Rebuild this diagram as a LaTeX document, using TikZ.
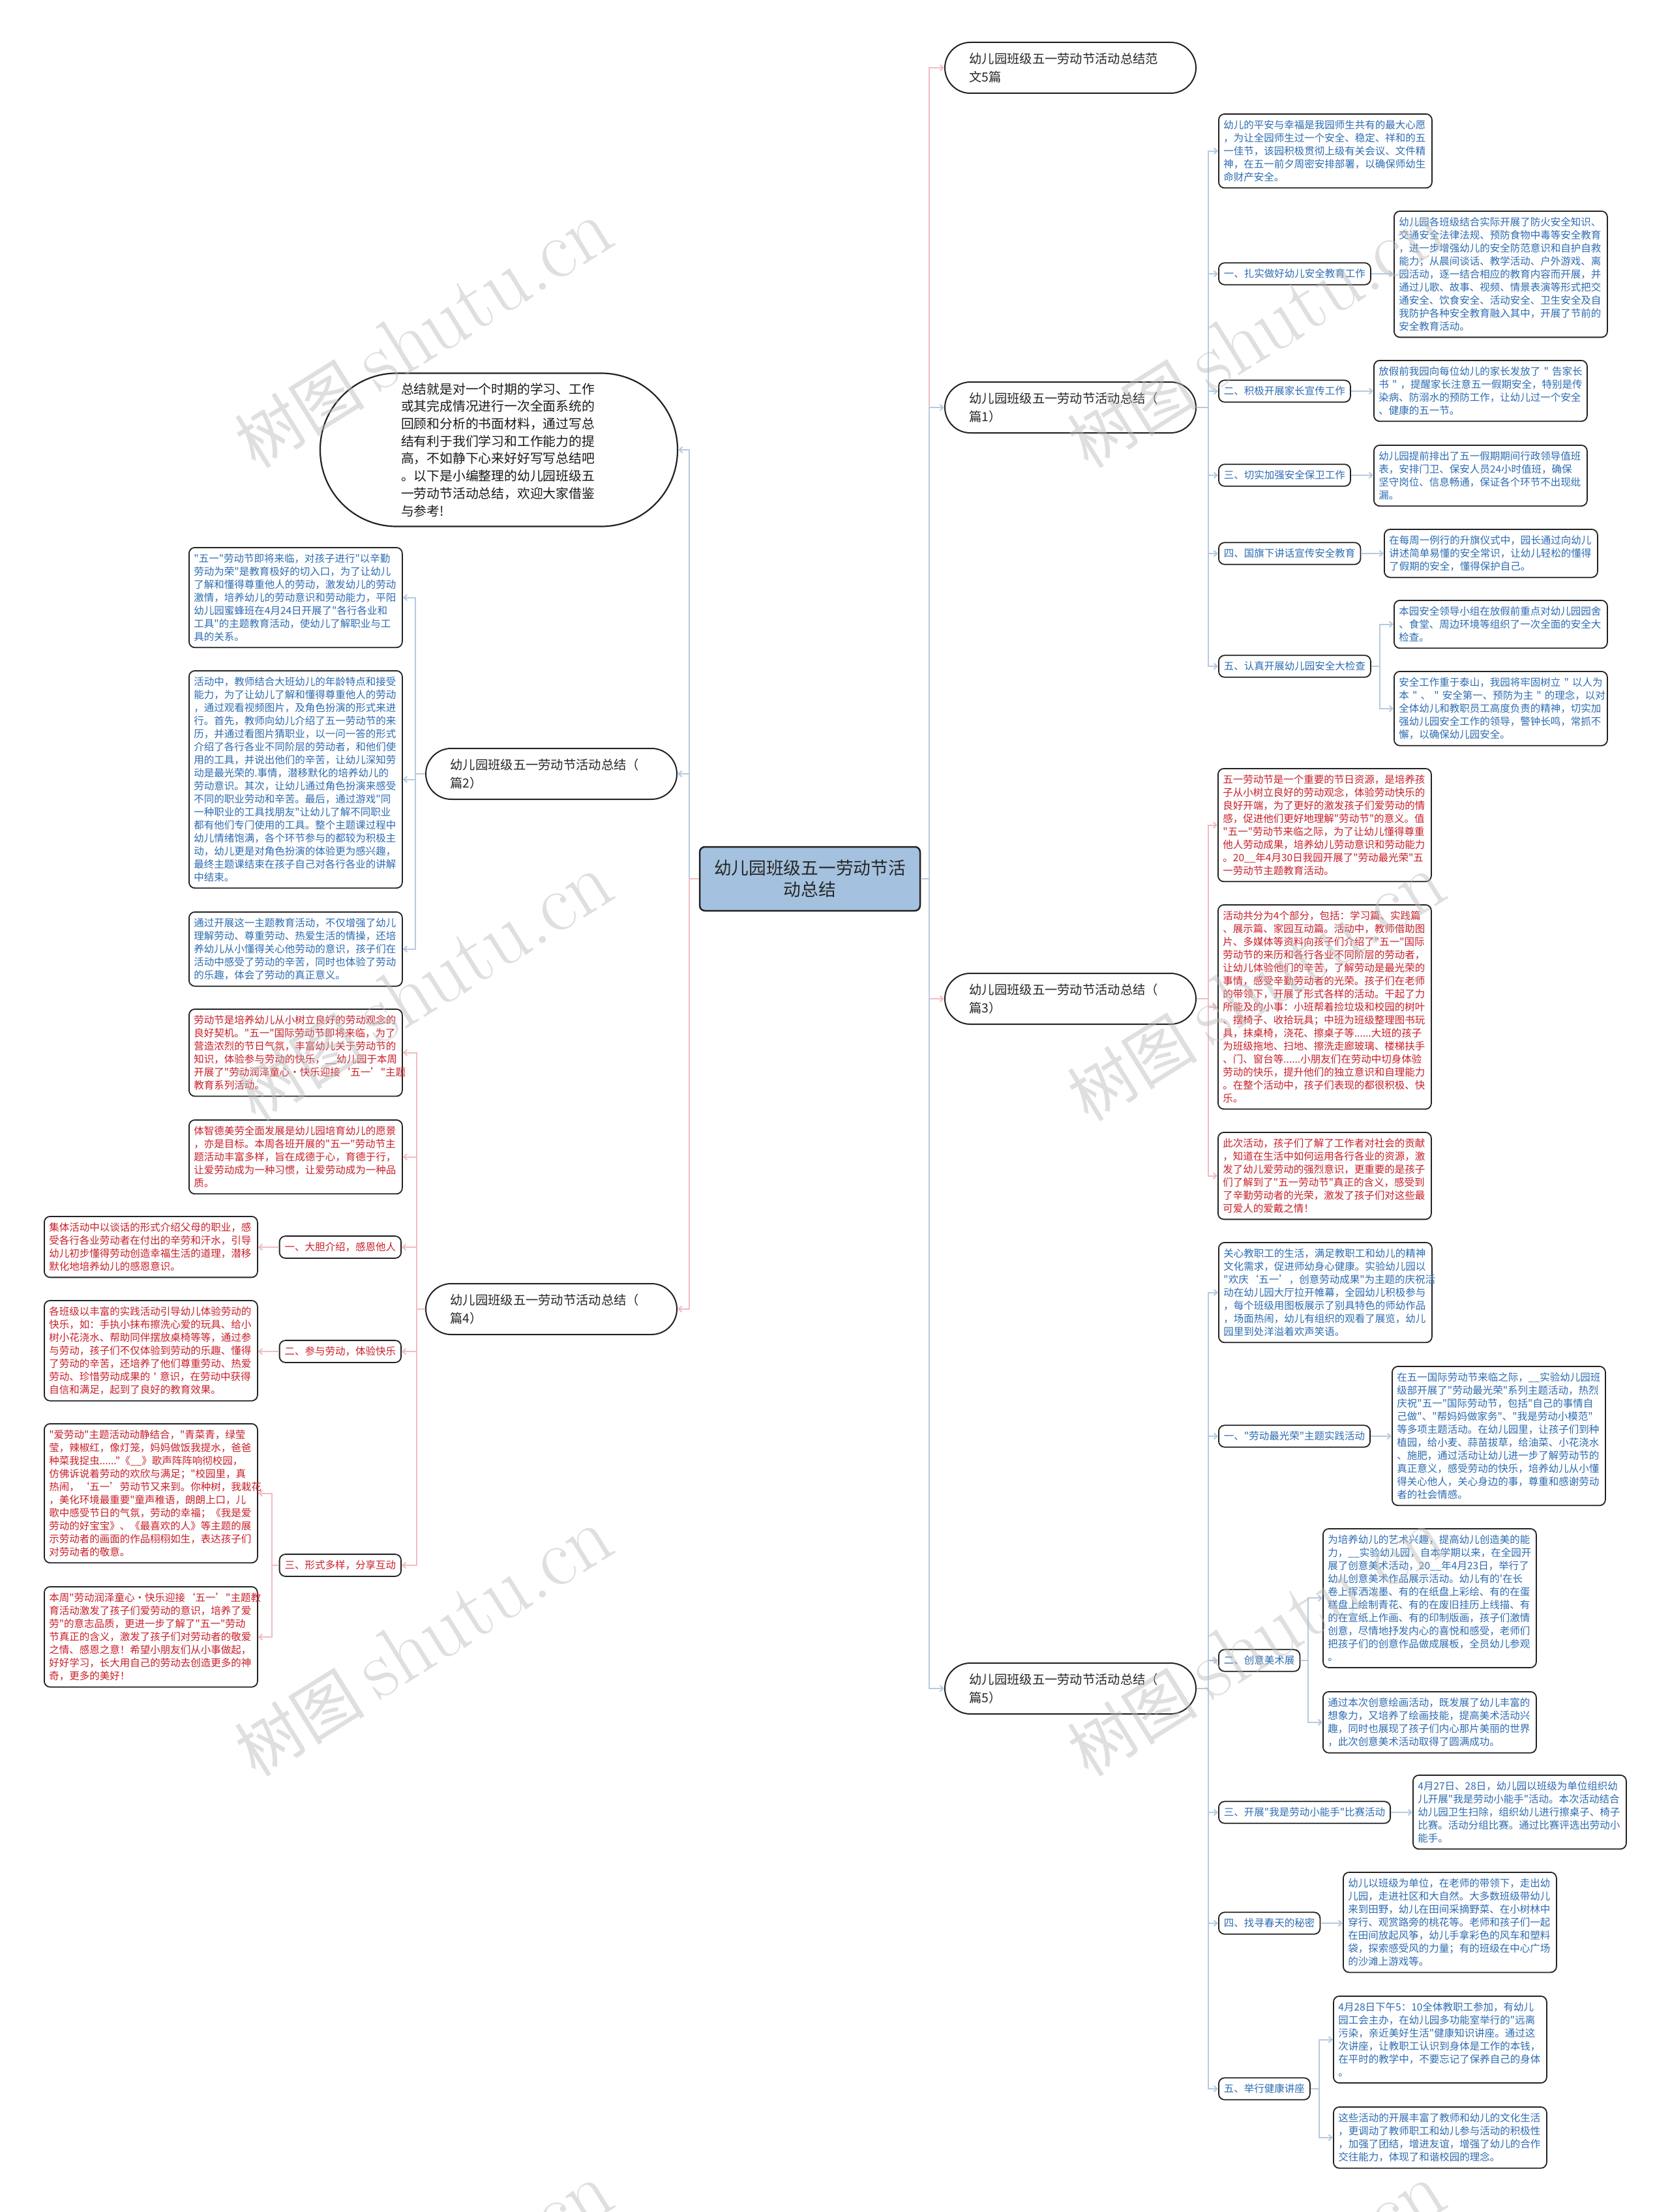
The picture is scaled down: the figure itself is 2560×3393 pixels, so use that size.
\documentclass[tikz,border=0pt]{standalone}
\usepackage{fontspec}
\newfontfamily\cjk{Noto Sans CJK SC}
\usetikzlibrary{arrows.meta}
\definecolor{tblue}{RGB}{45,108,178}
\definecolor{tred}{RGB}{200,32,42}
\definecolor{lblue}{RGB}{182,202,224}
\definecolor{lpink}{RGB}{240,188,194}
\definecolor{rootfill}{RGB}{164,194,223}
\definecolor{bdr}{RGB}{34,34,34}
\tikzset{
 txt/.style={draw=bdr, line width=1.8pt, rounded corners=9pt, fill=white, anchor=north west, align=left, text width=312pt, inner xsep=7.5pt, inner ysep=9.5pt, font=\cjk\fontsize{15.5}{20}\selectfont},
 lbl/.style={draw=bdr, line width=1.8pt, rounded corners=9pt, fill=white, inner xsep=8pt, inner ysep=9.5pt, font=\cjk\fontsize{15.5}{20}\selectfont},
 bl/.style={text=tblue}, rd/.style={text=tred},
 branch/.style={draw=bdr, line width=2pt, rounded corners=39pt, fill=white, minimum width=385pt, minimum height=78pt, text width=310pt, align=left, inner xsep=37.5pt, font=\cjk\fontsize{19.3}{28}\selectfont, text=black!85},
 cb/.style={draw=lblue, line width=2pt, -{Straight Barb[length=5pt,width=9pt]}},
 cp/.style={draw=lpink, line width=2pt, -{Straight Barb[length=5pt,width=9pt]}},
 wmark/.style={rotate=32, text=gray!55, opacity=0.45, inner sep=0pt},
}
\begin{document}
\begin{tikzpicture}[x=1pt,y=-1pt]
\useasboundingbox[fill=white] (0,0) rectangle (2560,3393);

% ---------- root, intro, branches ----------
\node[draw=bdr, line width=2.5pt, rounded corners=8pt, fill=rootfill, minimum width=338pt, minimum height=98pt, align=center, font=\cjk\fontsize{26.7}{33}\selectfont, text=black!85] (root) at (1242,1348) {幼儿园班级五一劳动节活\\动总结};

\node[draw=bdr, line width=2.2pt, rounded corners=117pt, fill=white, minimum width=548pt, minimum height=235pt, text width=300pt, align=left, font=\cjk\fontsize{19.8}{26.7}\selectfont, text=black!90] (intro) at (765,690) {总结就是对一个时期的学习、工作\\或其完成情况进行一次全面系统的\\回顾和分析的书面材料，通过写总\\结有利于我们学习和工作能力的提\\高，不如静下心来好好写写总结吧\\。以下是小编整理的幼儿园班级五\\一劳动节活动总结，欢迎大家借鉴\\与参考!};

\node[branch, anchor=west] (top) at (1448,104) {幼儿园班级五一劳动节活动总结范\\文5篇};
\node[branch, anchor=west] (p1) at (1448,625) {幼儿园班级五一劳动节活动总结（\\篇1）};
\node[branch, anchor=west] (p3) at (1448,1532) {幼儿园班级五一劳动节活动总结（\\篇3）};
\node[branch, anchor=west] (p5) at (1448,2590) {幼儿园班级五一劳动节活动总结（\\篇5）};
\node[branch, anchor=east] (p2) at (1039,1187) {幼儿园班级五一劳动节活动总结（\\篇2）};
\node[branch, anchor=east] (p4) at (1039,2008) {幼儿园班级五一劳动节活动总结（\\篇4）};

% ---------- 篇1 ----------
\node[txt, bl] (b1t0) at (1868,174) {幼儿的平安与幸福是我园师生共有的最大心愿\\，为让全园师生过一个安全、稳定、祥和的五\\一佳节，该园积极贯彻上级有关会议、文件精\\神，在五一前夕周密安排部署，以确保师幼生\\命财产安全。};
\node[lbl, bl, anchor=west] (b1l1) at (1868,420) {一、扎实做好幼儿安全教育工作};
\node[txt, bl] (b1t1) at (2137,323) {幼儿园各班级结合实际开展了防火安全知识、\\交通安全法律法规、预防食物中毒等安全教育\\，进一步增强幼儿的安全防范意识和自护自救\\能力；从晨间谈话、教学活动、户外游戏、离\\园活动，逐一结合相应的教育内容而开展，并\\通过儿歌、故事、视频、情景表演等形式把交\\通安全、饮食安全、活动安全、卫生安全及自\\我防护各种安全教育融入其中，开展了节前的\\安全教育活动。};
\node[lbl, bl, anchor=west] (b1l2) at (1868,600) {二、积极开展家长宣传工作};
\node[txt, bl] (b1t2) at (2106,552) {放假前我园向每位幼儿的家长发放了~"~告家长\\书~"~，提醒家长注意五一假期安全，特别是传\\染病、防溺水的预防工作，让幼儿过一个安全\\、健康的五一节。};
\node[lbl, bl, anchor=west] (b1l3) at (1868,729) {三、切实加强安全保卫工作};
\node[txt, bl] (b1t3) at (2106,682) {幼儿园提前排出了五一假期期间行政领导值班\\表，安排门卫、保安人员24小时值班，确保\\坚守岗位、信息畅通，保证各个环节不出现纰\\漏。};
\node[lbl, bl, anchor=west] (b1l4) at (1868,849) {四、国旗下讲话宣传安全教育};
\node[txt, bl] (b1t4) at (2122,811) {在每周一例行的升旗仪式中，园长通过向幼儿\\讲述简单易懂的安全常识，让幼儿轻松的懂得\\了假期的安全，懂得保护自己。};
\node[lbl, bl, anchor=west] (b1l5) at (1868,1022) {五、认真开展幼儿园安全大检查};
\node[txt, bl] (b1t5a) at (2137,920) {本园安全领导小组在放假前重点对幼儿园园舍\\、食堂、周边环境等组织了一次全面的安全大\\检查。};
\node[txt, bl] (b1t5b) at (2137,1029) {安全工作重于泰山，我园将牢固树立~"~以人为\\本~"~、~"~安全第一、预防为主~"~的理念，以对\\全体幼儿和教职员工高度负责的精神，切实加\\强幼儿园安全工作的领导，警钟长鸣，常抓不\\懈，以确保幼儿园安全。};

% ---------- 篇3 ----------
\node[txt, rd] (b3t1) at (1867,1178) {五一劳动节是一个重要的节日资源，是培养孩\\子从小树立良好的劳动观念，体验劳动快乐的\\良好开端，为了更好的激发孩子们爱劳动的情\\感，促进他们更好地理解"劳动节"的意义。值\\"五一"劳动节来临之际，为了让幼儿懂得尊重\\他人劳动成果，培养幼儿劳动意识和劳动能力\\。20\_\_年4月30日我园开展了"劳动最光荣"五\\一劳动节主题教育活动。};
\node[txt, rd] (b3t2) at (1867,1387) {活动共分为4个部分，包括：学习篇、实践篇\\、展示篇、家园互动篇。活动中，教师借助图\\片、多媒体等资料向孩子们介绍了"五一"国际\\劳动节的来历和各行各业不同阶层的劳动者，\\让幼儿体验他们的辛苦，了解劳动是最光荣的\\事情，感受辛勤劳动者的光荣。孩子们在老师\\的带领下，开展了形式各样的活动。干起了力\\所能及的小事：小班帮着捡垃圾和校园的树叶\\、摆椅子、收拾玩具；中班为班级整理图书玩\\具，抹桌椅，浇花、擦桌子等......大班的孩子\\为班级拖地、扫地、擦洗走廊玻璃、楼梯扶手\\、门、窗台等......小朋友们在劳动中切身体验\\劳动的快乐，提升他们的独立意识和自理能力\\。在整个活动中，孩子们表现的都很积极、快\\乐。};
\node[txt, rd] (b3t3) at (1867,1736) {此次活动，孩子们了解了工作者对社会的贡献\\，知道在生活中如何运用各行各业的资源，激\\发了幼儿爱劳动的强烈意识，更重要的是孩子\\们了解到了"五一劳动节"真正的含义，感受到\\了辛勤劳动者的光荣，激发了孩子们对这些最\\可爱人的爱戴之情！};

% ---------- 篇5 ----------
\node[txt, bl] (b5t0) at (1868,1905) {关心教职工的生活，满足教职工和幼儿的精神\\文化需求，促进师幼身心健康。实验幼儿园以\\"欢庆‘五一’，创意劳动成果"为主题的庆祝活\\动在幼儿园大厅拉开帷幕，全园幼儿积极参与\\，每个班级用图板展示了别具特色的师幼作品\\，场面热闹，幼儿有组织的观看了展览，幼儿\\园里到处洋溢着欢声笑语。};
\node[lbl, bl, anchor=west] (b5l1) at (1868,2203) {一、"劳动最光荣"主题实践活动};
\node[txt, bl] (b5t1) at (2134,2095) {在五一国际劳动节来临之际，\_\_实验幼儿园班\\级部开展了"劳动最光荣"系列主题活动，热烈\\庆祝"五一"国际劳动节，包括"自己的事情自\\己做"、"帮妈妈做家务"、"我是劳动小模范"\\等多项主题活动。在幼儿园里，让孩子们到种\\植园，给小麦、蒜苗拔草，给油菜、小花浇水\\、施肥，通过活动让幼儿进一步了解劳动节的\\真正意义，感受劳动的快乐，培养幼儿从小懂\\得关心他人，关心身边的事，尊重和感谢劳动\\者的社会情感。};
\node[lbl, bl, anchor=west] (b5l2) at (1868,2547) {二、创意美术展};
\node[txt, bl] (b5t2a) at (2028,2344) {为培养幼儿的艺术兴趣，提高幼儿创造美的能\\力，\_\_实验幼儿园，自本学期以来，在全园开\\展了创意美术活动，20\_\_年4月23日，举行了\\幼儿创意美术作品展示活动。幼儿有的'在长\\卷上挥洒泼墨、有的在纸盘上彩绘、有的在蛋\\糕盘上绘制青花、有的在废旧挂历上线描、有\\的在宣纸上作画、有的印制版画，孩子们激情\\创意，尽情地抒发内心的喜悦和感受，老师们\\把孩子们的创意作品做成展板，全员幼儿参观\\。};
\node[txt, bl] (b5t2b) at (2028,2594) {通过本次创意绘画活动，既发展了幼儿丰富的\\想象力，又培养了绘画技能，提高美术活动兴\\趣，同时也展现了孩子们内心那片美丽的世界\\，此次创意美术活动取得了圆满成功。};
\node[lbl, bl, anchor=west] (b5l3) at (1868,2780) {三、开展"我是劳动小能手"比赛活动};
\node[txt, bl] (b5t3) at (2166,2722) {4月27日、28日，幼儿园以班级为单位组织幼\\儿开展"我是劳动小能手"活动。本次活动结合\\幼儿园卫生扫除，组织幼儿进行擦桌子、椅子\\比赛。活动分组比赛。通过比赛评选出劳动小\\能手。};
\node[lbl, bl, anchor=west] (b5l4) at (1868,2950) {四、找寻春天的秘密};
\node[txt, bl] (b5t4) at (2059,2871) {幼儿以班级为单位，在老师的带领下，走出幼\\儿园，走进社区和大自然。大多数班级带幼儿\\来到田野，幼儿在田间采摘野菜、在小树林中\\穿行、观赏路旁的桃花等。老师和孩子们一起\\在田间放起风筝，幼儿手拿彩色的风车和塑料\\袋，探索感受风的力量；有的班级在中心广场\\的沙滩上游戏等。};
\node[lbl, bl, anchor=west] (b5l5) at (1868,3204) {五、举行健康讲座};
\node[txt, bl] (b5t5a) at (2044,3061) {4月28日下午5：10全体教职工参加，有幼儿\\园工会主办，在幼儿园多功能室举行的"远离\\污染，亲近美好生活"健康知识讲座。通过这\\次讲座，让教职工认识到身体是工作的本钱，\\在平时的教学中，不要忘记了保养自己的身体\\。};
\node[txt, bl] (b5t5b) at (2044,3231) {这些活动的开展丰富了教师和幼儿的文化生活\\，更调动了教师职工和幼儿参与活动的积极性\\，加强了团结，增进友谊，增强了幼儿的合作\\交往能力，体现了和谐校园的理念。};

% ---------- 篇2 ----------
\node[txt, bl] (b2t1) at (289,839) {"五一"劳动节即将来临，对孩子进行"以辛勤\\劳动为荣"是教育极好的切入口，为了让幼儿\\了解和懂得尊重他人的劳动，激发幼儿的劳动\\激情，培养幼儿的劳动意识和劳动能力，平阳\\幼儿园蜜蜂班在4月24日开展了"各行各业和\\工具"的主题教育活动，使幼儿了解职业与工\\具的关系。};
\node[txt, bl] (b2t2) at (289,1028) {活动中，教师结合大班幼儿的年龄特点和接受\\能力，为了让幼儿了解和懂得尊重他人的劳动\\，通过观看视频图片，及角色扮演的形式来进\\行。首先，教师向幼儿介绍了五一劳动节的来\\历，并通过看图片猜职业，以一问一答的形式\\介绍了各行各业不同阶层的劳动者，和他们使\\用的工具，并说出他们的辛苦，让幼儿深知劳\\动是最光荣的.事情，潜移默化的培养幼儿的\\劳动意识。其次，让幼儿通过角色扮演来感受\\不同的职业劳动和辛苦。最后，通过游戏"同\\一种职业的工具找朋友"让幼儿了解不同职业\\都有他们专门使用的工具。整个主题课过程中\\幼儿情绪饱满，各个环节参与的都较为积极主\\动，幼儿更是对角色扮演的体验更为感兴趣，\\最终主题课结束在孩子自己对各行各业的讲解\\中结束。};
\node[txt, bl] (b2t3) at (289,1398) {通过开展这一主题教育活动，不仅增强了幼儿\\理解劳动、尊重劳动、热爱生活的情操，还培\\养幼儿从小懂得关心他劳动的意识，孩子们在\\活动中感受了劳动的辛苦，同时也体验了劳动\\的乐趣，体会了劳动的真正意义。};

% ---------- 篇4 ----------
\node[txt, rd] (b4t1) at (289,1547) {劳动节是培养幼儿从小树立良好的劳动观念的\\良好契机。"五一"国际劳动节即将来临，为了\\营造浓烈的节日气氛，丰富幼儿关于劳动节的\\知识，体验参与劳动的快乐，\_\_幼儿园于本周\\开展了"劳动润泽童心·快乐迎接‘五一’"主题\\教育系列活动。};
\node[txt, rd] (b4t2) at (289,1717) {体智德美劳全面发展是幼儿园培育幼儿的愿景\\，亦是目标。本周各班开展的"五一"劳动节主\\题活动丰富多样，旨在成德于心，育德于行，\\让爱劳动成为一种习惯，让爱劳动成为一种品\\质。};
\node[lbl, rd, anchor=east] (b4l1) at (616,1913) {一、大胆介绍，感恩他人};
\node[txt, rd] (b4t3) at (67,1865) {集体活动中以谈话的形式介绍父母的职业，感\\受各行各业劳动者在付出的辛劳和汗水，引导\\幼儿初步懂得劳动创造幸福生活的道理，潜移\\默化地培养幼儿的感恩意识。};
\node[lbl, rd, anchor=east] (b4l2) at (616,2073) {二、参与劳动，体验快乐};
\node[txt, rd] (b4t4) at (67,1994) {各班级以丰富的实践活动引导幼儿体验劳动的\\快乐，如：手执小抹布擦洗心爱的玩具、给小\\树小花浇水、帮助同伴摆放桌椅等等，通过参\\与劳动，孩子们不仅体验到劳动的乐趣、懂得\\了劳动的辛苦，还培养了他们尊重劳动、热爱\\劳动、珍惜劳动成果的~'~意识，在劳动中获得\\自信和满足，起到了良好的教育效果。};
\node[lbl, rd, anchor=east] (b4l3) at (616,2401) {三、形式多样，分享互动};
\node[txt, rd] (b4t5) at (67,2183) {"爱劳动"主题活动动静结合，"青菜青，绿莹\\莹，辣椒红，像灯笼，妈妈做饭我提水，爸爸\\种菜我捉虫......"《\_\_》歌声阵阵响彻校园，\\仿佛诉说着劳动的欢欣与满足；"校园里，真\\热闹，‘五一’劳动节又来到。你种树，我栽花\\，美化环境最重要"童声稚语，朗朗上口，儿\\歌中感受节日的气氛，劳动的幸福；《我是爱\\劳动的好宝宝》、《最喜欢的人》等主题的展\\示劳动者的画面的作品栩栩如生，表达孩子们\\对劳动者的敬意。};
\node[txt, rd] (b4t6) at (67,2433) {本周"劳动润泽童心·快乐迎接‘五一’"主题教\\育活动激发了孩子们爱劳动的意识，培养了爱\\劳"的意志品质，更进一步了解了"五一"劳动\\节真正的含义，激发了孩子们对劳动者的敬爱\\之情、感恩之意！希望小朋友们从小事做起，\\好好学习，长大用自己的劳动去创造更多的神\\奇，更多的美好！};

% ---------- main connectors ----------
\draw[cp] (root.east) -- ++(13,0) |- (top.west);
\draw[cp] (root.east) -- ++(13,0) |- (p3.west);
\draw[cb] (root.east) -- ++(13,0) |- (p1.west);
\draw[cb] (root.east) -- ++(13,0) |- (p5.west);
\draw[cb] (root.west) -- ++(-15,0) |- (intro.east);
\draw[cb] (root.west) -- ++(-15,0) |- (p2.east);
\draw[cp] (root.west) -- ++(-15,0) |- (p4.east);

% ---------- 篇1 connectors ----------
\foreach \c in {b1t0,b1l1,b1l2,b1l3,b1l4,b1l5} \draw[cb] (p1.east) -- ++(18,0) |- (\c.west);
\draw[cb] (b1l1.east) -- (b1l1.east -| b1t1.west);
\draw[cb] (b1l2.east) -- (b1l2.east -| b1t2.west);
\draw[cb] (b1l3.east) -- (b1l3.east -| b1t3.west);
\draw[cb] (b1l4.east) -- (b1l4.east -| b1t4.west);
\draw[cb] (b1l5.east) -- ++(13,0) |- (b1t5a.west);
\draw[cb] (b1l5.east) -- ++(13,0) |- (b1t5b.west);

% ---------- 篇3 connectors ----------
\foreach \c in {b3t1,b3t2,b3t3} \draw[cp] (p3.east) -- ++(18,0) |- (\c.west);

% ---------- 篇5 connectors ----------
\foreach \c in {b5t0,b5l1,b5l2,b5l3,b5l4,b5l5} \draw[cb] (p5.east) -- ++(18,0) |- (\c.west);
\draw[cb] (b5l1.east) -- (b5l1.east -| b5t1.west);
\draw[cb] (b5l2.east) -- ++(12,0) |- (b5t2a.west);
\draw[cb] (b5l2.east) -- ++(12,0) |- (b5t2b.west);
\draw[cb] (b5l3.east) -- (b5l3.east -| b5t3.west);
\draw[cb] (b5l4.east) -- (b5l4.east -| b5t4.west);
\draw[cb] (b5l5.east) -- ++(13,0) |- (b5t5a.west);
\draw[cb] (b5l5.east) -- ++(13,0) |- (b5t5b.west);

% ---------- 篇2 connectors ----------
\foreach \c in {b2t1,b2t2,b2t3} \draw[cb] (p2.west) -- ++(-15,0) |- (\c.east);

% ---------- 篇4 connectors ----------
\foreach \c in {b4t1,b4t2,b4l1,b4l2,b4l3} \draw[cp] (p4.west) -- ++(-13,0) |- (\c.east);
\draw[cp] (b4l1.west) -- (b4l1.west -| b4t3.east);
\draw[cp] (b4l2.west) -- (b4l2.west -| b4t4.east);
\draw[cp] (b4l3.west) -- ++(-11,0) |- (b4t5.east);
\draw[cp] (b4l3.west) -- ++(-11,0) |- (b4t6.east);

% ---------- watermarks ----------
\foreach \x/\y [count=\i] in {649/513,649/1515,649/2519,649/3523,1926/513,1926/1515,1926/2519,1926/3523}
  \node[wmark] (wm\i) at (\x,\y) {\cjk\fontsize{100}{100}\selectfont 树图\hspace{22pt}\rmfamily\fontsize{128}{128}\selectfont shutu.cn};
\end{tikzpicture}
\end{document}
